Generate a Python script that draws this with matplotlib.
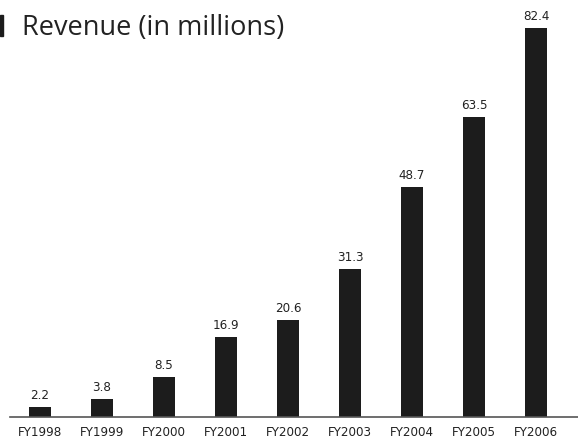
import matplotlib
matplotlib.use('Agg')
import matplotlib.pyplot as plt
from matplotlib.patches import Rectangle

years = ['FY1998', 'FY1999', 'FY2000', 'FY2001', 'FY2002',
         'FY2003', 'FY2004', 'FY2005', 'FY2006']
revenue = [2.2, 3.8, 8.5, 16.9, 20.6, 31.3, 48.7, 63.5, 82.4]

W, H = 578, 442
fig = plt.figure(figsize=(W / 100, H / 100), dpi=100)
ax = fig.add_axes([10 / W, 25 / H, 568 / W, 417 / H])

x = list(range(len(years)))
ax.bar(x, revenue, width=0.37, color='#1c1c1c')
ax.set_xlim(-0.484, 8.677)
ax.set_ylim(0, 417 / 4.72)

lab_font = dict(family='DejaVu Sans', stretch='condensed')
for xi, v in zip(x, revenue):
    ax.annotate(f'{v:.1f}', (xi, v), xytext=(0, 3.5), textcoords='offset points',
                ha='center', va='bottom', fontsize=9.5, color='#222222', **lab_font)

ax.set_xticks(x)
ax.set_xticklabels(years, fontsize=9.5, color='#222222', **lab_font)
ax.tick_params(axis='x', length=0, pad=6.5)
ax.set_yticks([])
for s in ['top', 'right', 'left']:
    ax.spines[s].set_visible(False)
ax.spines['bottom'].set_color('#555555')
ax.spines['bottom'].set_linewidth(1.2)

fig.text(22 / W, 1 - 35 / H, 'Revenue (in millions)', fontsize=19.5,
         color='#222222', family=['Open Sans', 'DejaVu Sans'],
         ha='left', va='baseline')
fig.patches.append(Rectangle((0, 1 - 36 / H), 3 / W, 21 / H,
                             transform=fig.transFigure, color='#1c1c1c'))

fig.savefig('out.png', dpi=100)
